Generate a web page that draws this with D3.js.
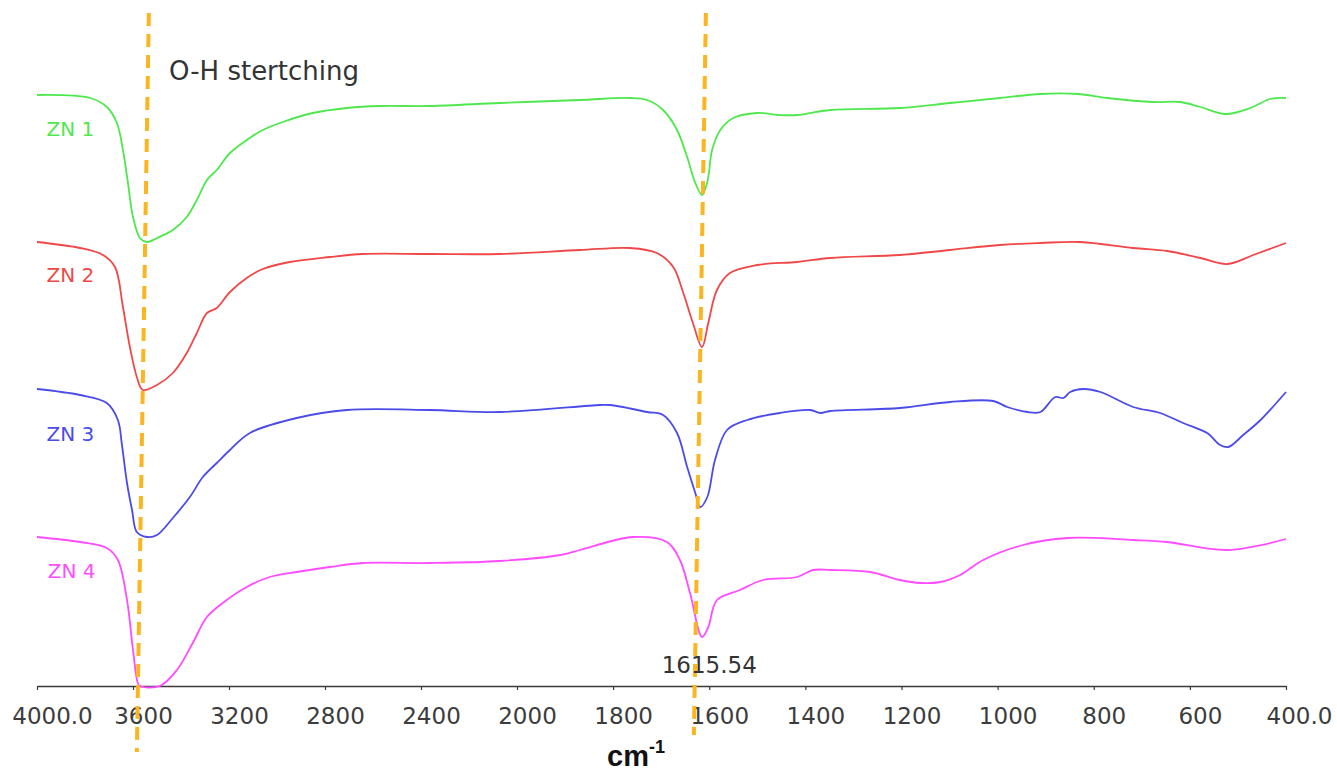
<!DOCTYPE html>
<html>
<head>
<meta charset="utf-8">
<script src="https://cdn.jsdelivr.net/npm/d3@7"></script>
<style>
  html, body { margin: 0; padding: 0; background: #fff; }
  svg { display: block; }
</style>
</head>
<body>
<svg id="chart" width="1337" height="773"></svg>
<script>
// ---- data (wavenumber cm^-1, offset transmittance, arbitrary units) ----
const tickValues = [4000, 3600, 3200, 2800, 2400, 2000, 1800, 1600, 1400, 1200, 1000, 800, 600, 400];
const tickLabels = ["4000.0", "3600", "3200", "2800", "2400", "2000", "1800", "1600", "1400", "1200", "1000", "800", "600", "400.0"];

const seriesNames = ["ZN 1", "ZN 2", "ZN 3", "ZN 4"];
const seriesColors = ["#4ee84e", "#f04848", "#4b4bea", "#ff4cff"];

const zn1Wave = [4000,3779,3709,3667,3642,3621,3600,3571,3542,3500,3434,3376,3334,3292,3251,3196,3126,3059,2976,2851,2709,2572,2364,2072,1869,1765,1729,1696,1667,1646,1629,1615,1604,1594,1577,1550,1500,1453,1417,1348,1203,1099,995,911,834,772,676,620,578,526,474,433,400];
const zn1Val  = [59.1,58.8,57.9,56.3,53.6,50.3,46.9,44.8,44.4,44.8,45.6,46.9,48.6,50.6,51.6,53.3,54.6,55.6,56.4,57.3,57.8,58.0,58.0,58.3,58.6,58.8,58.6,57.6,55.6,52.9,50.3,49.1,50.4,53.6,55.6,56.8,57.3,57.1,57.1,57.6,57.8,58.3,58.8,59.2,59.2,58.8,58.4,58.4,57.9,57.2,57.8,58.7,58.8];

const zn2Wave = [4000,3821,3725,3675,3642,3613,3584,3559,3500,3434,3376,3334,3292,3251,3196,3126,3059,2947,2780,2643,2364,2072,1869,1765,1709,1675,1654,1634,1615,1602,1584,1557,1500,1417,1348,1203,1099,995,911,828,718,647,578,522,468,400];
const zn2Val  = [44.4,43.8,43.1,41.9,37.9,33.9,30.9,29.6,30.1,31.3,33.3,35.3,37.3,37.8,39.4,40.8,41.7,42.4,42.9,43.2,43.2,43.2,43.6,43.8,43.3,41.9,39.3,36.3,33.9,36.3,39.6,41.3,42.1,42.4,42.8,43.1,43.6,44.1,44.3,44.4,43.8,43.5,42.8,42.2,43.1,44.3];

const zn3Wave = [4000,3821,3709,3663,3646,3625,3604,3584,3542,3500,3434,3363,3309,3251,3196,3113,2918,2709,2364,2072,1827,1806,1729,1696,1667,1646,1629,1619,1604,1588,1563,1521,1453,1390,1369,1348,1203,1099,1009,980,938,911,880,863,849,822,786,718,662,614,564,537,520,489,453,400];
const zn3Val  = [29.7,29.1,28.3,26.6,24.1,20.3,17.6,15.4,14.9,15.1,16.8,18.9,20.9,22.3,23.6,25.3,26.8,27.6,27.6,27.4,28.1,28.1,27.4,27.1,25.3,21.9,19.3,17.9,18.9,22.6,25.6,26.6,27.3,27.6,27.3,27.5,27.8,28.4,28.5,27.9,27.4,27.4,28.9,28.8,29.4,29.7,29.4,27.9,27.3,26.3,25.3,24.1,23.9,25.1,26.6,29.4];

const zn4Wave = [4000,3821,3709,3663,3625,3600,3580,3571,3488,3417,3351,3292,3226,3126,3030,2918,2780,2643,2364,2072,1910,1869,1759,1688,1661,1640,1615,1602,1584,1536,1488,1417,1384,1348,1265,1203,1161,1119,1078,1030,947,855,718,647,522,400];
const zn4Val  = [14.9,14.4,13.8,12.6,8.6,3.6,0.3,0,0,1.6,4.3,6.9,8.3,9.9,10.9,11.4,11.9,12.3,12.3,12.5,13.1,13.6,14.9,14.4,12.6,9.3,4.9,5.9,8.6,9.6,10.6,10.9,11.6,11.6,11.4,10.6,10.3,10.4,11.1,12.6,14.1,14.8,14.6,14.4,13.6,14.7];

// series label anchor (wavenumber, value)
const labelWave = [3960, 3960, 3960, 3955];
const labelVal  = [55.0, 40.4, 24.5, 10.8];

// dashed guide lines: wavenumber at top / bottom, value at top / bottom
const guideWaveTop = [3534, 1607];
const guideWaveBottom = [3584, 1632];
const guideValTop = [67.3, 67.3];
const guideValBottom = [-6.6, -4.9];

const annotationText = "O-H stertching";
const annotationWave = 3450;
const annotationVal = 60.6;
const peakText = "1615.54";
const peakWave = 1600;
const peakVal = 1.3;

// ---- layout ----
const svg = d3.select("#chart");
const x = d3.scaleLinear()
  .domain([4000, 2000, 400])
  .range([37, 517, 1286]);
const y = d3.scaleLinear()
  .domain([0, 68.6])
  .range([686, 0]);

// x axis
const axis = d3.axisBottom(x)
  .tickValues(tickValues)
  .tickFormat((d, i) => tickLabels[i])
  .tickSize(4)
  .tickSizeOuter(0);

const gx = svg.append("g")
  .attr("transform", `translate(0,${y(0)})`)
  .call(axis);
gx.select(".domain").attr("stroke", "#3a3a3a").attr("stroke-width", 1.6);
gx.selectAll(".tick line").attr("stroke", "#3a3a3a").attr("stroke-width", 1.2);
gx.selectAll(".tick text")
  .attr("font-family", "'DejaVu Sans', Verdana, sans-serif")
  .attr("font-size", 23)
  .attr("fill", "#3c3c3c")
  .attr("dx", (d, i) => (i === 0 ? 15 : (i === tickValues.length - 1 ? 13 : 10)))
  .attr("y", 22);

// axis title
const xt = svg.append("text")
  .attr("x", 607)
  .attr("y", 766)
  .attr("font-family", "'Liberation Sans', Arial, sans-serif")
  .attr("font-weight", "bold")
  .attr("font-size", 29)
  .attr("fill", "#111");
xt.append("tspan").text("cm");
xt.append("tspan").attr("font-size", 18).attr("dy", -13).text("-1");

// spectra
const all = [
  [zn1Wave, zn1Val],
  [zn2Wave, zn2Val],
  [zn3Wave, zn3Val],
  [zn4Wave, zn4Val]
];
const line = d3.line()
  .x(d => x(d[0]))
  .y(d => y(d[1]))
  .curve(d3.curveCatmullRom.alpha(0.5));

all.forEach((s, i) => {
  const pts = s[0].map((w, j) => [w, s[1][j]]);
  svg.append("path")
    .datum(pts)
    .attr("fill", "none")
    .attr("stroke", seriesColors[i])
    .attr("stroke-width", 1.8)
    .attr("stroke-linejoin", "round")
    .attr("d", line);
  svg.append("text")
    .attr("x", x(labelWave[i]))
    .attr("y", y(labelVal[i]))
    .attr("font-family", "'DejaVu Sans', Verdana, sans-serif")
    .attr("font-size", 20)
    .attr("fill", seriesColors[i])
    .text(seriesNames[i]);
});

// dashed guides
guideWaveTop.forEach((w, i) => {
  svg.append("line")
    .attr("x1", x(w))
    .attr("y1", y(guideValTop[i]))
    .attr("x2", x(guideWaveBottom[i]))
    .attr("y2", y(guideValBottom[i]))
    .attr("stroke", "#fbb520")
    .attr("stroke-width", 4)
    .attr("stroke-dasharray", "13,8");
});

// annotations
svg.append("text")
  .attr("x", x(annotationWave))
  .attr("y", y(annotationVal))
  .attr("font-family", "'DejaVu Sans', Verdana, sans-serif")
  .attr("font-size", 26)
  .attr("fill", "#333")
  .text(annotationText);

svg.append("text")
  .attr("x", x(peakWave))
  .attr("y", y(peakVal))
  .attr("text-anchor", "middle")
  .attr("font-family", "'DejaVu Sans', Verdana, sans-serif")
  .attr("font-size", 23)
  .attr("fill", "#333")
  .text(peakText);
</script>
</body>
</html>
